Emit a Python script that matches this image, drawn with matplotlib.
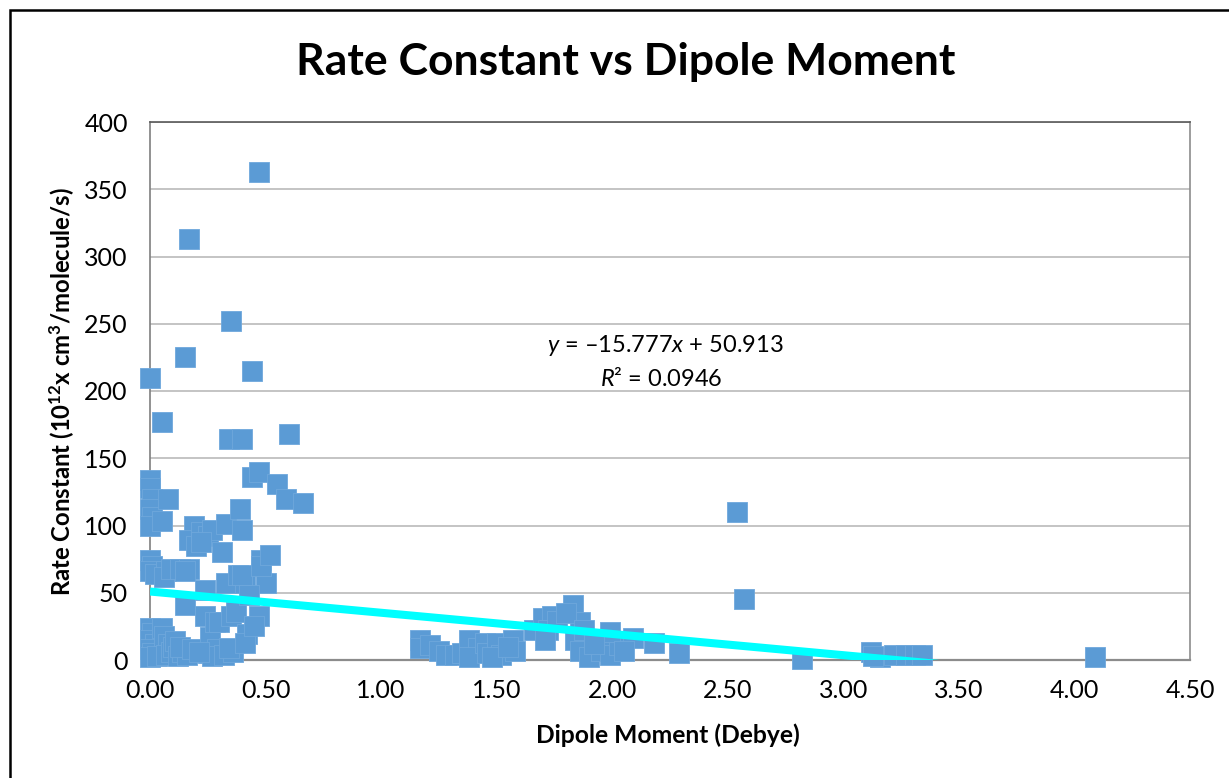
import matplotlib
matplotlib.use("Agg")
import matplotlib.pyplot as plt
from matplotlib.patches import Rectangle
from matplotlib.ticker import FormatStrFormatter
import numpy as np

# Dipole moment (Debye) of each compound
dipole = [
    0.00, 0.00, 0.00, 0.01, 0.00, 0.01, 0.00, 0.00, 0.01, 0.00, 0.02, 0.00, 0.01, 0.00, 0.02, 0.00, 0.01, 0.00, 0.03,
    0.05, 0.08, 0.05, 0.07, 0.06, 0.09, 0.05, 0.06, 0.08, 0.07, 0.09, 0.10, 0.11,
    0.15, 0.17, 0.19, 0.17, 0.13, 0.17, 0.15, 0.12, 0.14, 0.16, 0.13, 0.18, 0.15, 0.20,
    0.22, 0.25, 0.27, 0.24, 0.24, 0.26, 0.25, 0.22, 0.28, 0.29, 0.27, 0.21,
    0.35, 0.34, 0.40, 0.33, 0.31, 0.33, 0.30, 0.35, 0.32, 0.36, 0.39, 0.40, 0.38, 0.37, 0.34,
    0.47, 0.44, 0.44, 0.47, 0.41, 0.40, 0.42, 0.41, 0.47, 0.48, 0.50, 0.48, 0.45, 0.43,
    0.52, 0.55, 0.59, 0.60, 0.66,
    1.17, 1.17, 1.21, 1.25, 1.28, 1.32, 1.35, 1.38, 1.42, 1.38, 1.45, 1.46, 1.50, 1.52, 1.48,
    1.57, 1.58, 1.55, 1.66, 1.70, 1.74, 1.72, 1.71, 1.76, 1.83, 1.86, 1.84, 1.86, 1.90, 1.95,
    1.99, 2.03, 1.99, 2.09, 2.18, 2.29, 1.80, 1.88, 1.92, 2.05,
    2.54, 2.57, 2.82, 3.12, 3.16, 3.22, 3.27, 3.31, 3.34, 3.13, 4.09,
]

# Rate constant (10^12 x cm^3/molecule/s)
rate = [
    210, 134, 128, 120, 112, 106, 100, 74, 70, 66, 64, 24, 20, 15, 12, 8, 5, 2, 3,
    177, 120, 103, 66, 62, 68, 24, 18, 12, 4, 6, 10, 14,
    225, 313, 100, 89, 68, 68, 41, 3, 6, 4, 10, 8, 66, 85,
    95, 92, 97, 52, 33, 17, 5, 88, 28, 8, 3, 6,
    252, 164, 164, 101, 80, 57, 28, 33, 4, 6, 112, 97, 63, 36, 9,
    363, 215, 136, 140, 57, 63, 19, 13, 33, 74, 57, 70, 25, 48,
    78, 131, 120, 168, 117,
    15, 9, 11, 7, 4, 4, 5, 15, 9, 2, 13, 5, 13, 4, 2,
    15, 7, 10, 22, 31, 33, 22, 15, 29, 41, 28, 15, 7, 2, 7,
    4, 11, 21, 16, 13, 5, 35, 22, 12, 7,
    110, 45, 1, 6, 2, 4, 4, 4, 4, 3, 2,
]

# Linear trendline as reported on the chart
slope = -15.777
intercept = 50.913
r_squared = 0.0946

x_ticks = [0.0, 0.5, 1.0, 1.5, 2.0, 2.5, 3.0, 3.5, 4.0, 4.5]
y_ticks = [0, 50, 100, 150, 200, 250, 300, 350, 400]

FONT = "Lato"
plt.rcParams["font.family"] = [FONT, "DejaVu Sans"]
plt.rcParams["mathtext.fontset"] = "custom"
plt.rcParams["mathtext.rm"] = FONT
plt.rcParams["mathtext.it"] = FONT + ":italic"
plt.rcParams["mathtext.bf"] = FONT + ":bold"

W, H = 1229, 778
fig = plt.figure(figsize=(W / 100, H / 100), dpi=100)
ax = fig.add_axes([150 / W, 1 - 660 / H, (1190 - 150) / W, (660 - 122) / H])

ax.scatter(dipole, rate, marker="s", s=14.4 ** 2, color="#5B9BD5",
           edgecolors="#6FA8DC", linewidths=0.6, zorder=3, clip_on=False)

xs = np.array([min(dipole), max(dipole)])
ax.plot(xs, slope * xs + intercept, color="#00FFFF", lw=5.8, zorder=4,
        solid_capstyle="butt")

ax.set_xlim(0, 4.5)
ax.set_ylim(0, 400)
ax.set_xticks(x_ticks)
ax.set_yticks(y_ticks)
ax.xaxis.set_major_formatter(FormatStrFormatter("%.2f"))
ax.tick_params(axis="both", length=0, labelsize=18, colors="black")
ax.tick_params(axis="y", pad=16)
ax.tick_params(axis="x", pad=14)
ax.yaxis.grid(True, color="#BFBFBF", lw=1.3, zorder=0)
ax.set_axisbelow(True)
for side in ["top", "right", "left"]:
    ax.spines[side].set_color("#8C8C8C")
    ax.spines[side].set_linewidth(1.2)
ax.spines["bottom"].set_color("#8C8C8C")
ax.spines["bottom"].set_linewidth(1.6)
ax.spines["top"].set_color("#595959")
ax.spines["left"].set_color("#7F7F7F")

fig.text(626 / W, 1 - 62 / H, "Rate Constant vs Dipole Moment",
         ha="center", va="center", fontsize=32, fontweight="bold")
fig.text(668 / W, 1 - 735 / H, "Dipole Moment (Debye)",
         ha="center", va="center", fontsize=17.7, fontweight="bold")
fig.text(62 / W, 1 - 392 / H,
         "Rate Constant (10$^{\\mathbf{12}}$x cm$^{\\mathbf{3}}$/molecule/s)",
         ha="center", va="center", rotation=90, fontsize=17.2, fontweight="bold")

eq = f"$y$ = \u2013{abs(slope):.3f}$x$ + {intercept:.3f}"
fig.text(665 / W, 1 - 345 / H, eq, ha="center", va="center", fontsize=17)
fig.text(661 / W, 1 - 378 / H, f"$R$\u00b2 = {r_squared:.4f}",
         ha="center", va="center", fontsize=17)

# outer chart frame
fig.patches.append(Rectangle((10 / W, -0.2), 2.0, 1.2 - 10 / H,
                             transform=fig.transFigure, fill=False,
                             edgecolor="black", lw=1.8))

fig.savefig("out.png", dpi=100)
